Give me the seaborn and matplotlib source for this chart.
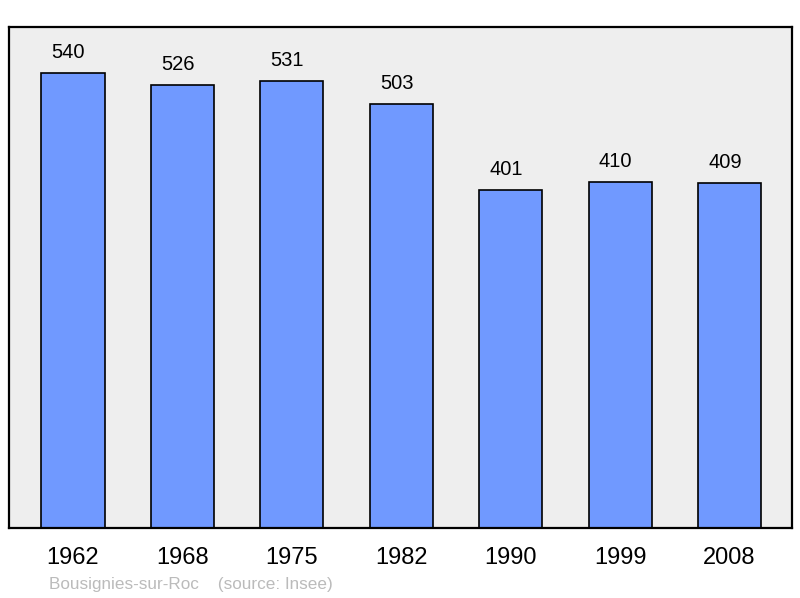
import matplotlib
matplotlib.use("Agg")
import matplotlib.pyplot as plt
import seaborn as sns
import pandas as pd

years = ["1962", "1968", "1975", "1982", "1990", "1999", "2008"]
population = [540, 526, 531, 503, 401, 410, 409]

sns.set_style("white")
plt.rcParams['font.family'] = ['Liberation Sans', 'DejaVu Sans']

df = pd.DataFrame({"year": years, "pop": population})

fig = plt.figure(figsize=(8, 5.98), dpi=100)
ax = fig.add_axes([9/800, 70/598, 783/800, 501/598])
ax.set_facecolor("#eeeeee")

sns.barplot(data=df, x="year", y="pop", color="#7099ff", width=0.576,
            edgecolor="black", linewidth=1.2, saturation=1, ax=ax)

for i, v in enumerate(population):
    ax.annotate(str(v), (i, v), xytext=(-3.3, 10.8), textcoords="offset points",
                ha="center", va="baseline", fontsize=14.5, color="black")

ax.set_xlim(-0.585, 6.571)
ax.set_ylim(0, 594.5)
ax.set_yticks([])
ax.set_xlabel("")
ax.set_ylabel("")
ax.tick_params(axis="x", length=0, labelsize=17, pad=13.5, labelcolor="black")
for s in ax.spines.values():
    s.set_linewidth(1.6)
    s.set_color("black")

fig.text(49/800, 1 - 584/598, "Bousignies-sur-Roc    (source: Insee)",
         fontsize=12.3, color="#bbbbbb", ha="left", va="center")

fig.savefig("out.png", dpi=100)
